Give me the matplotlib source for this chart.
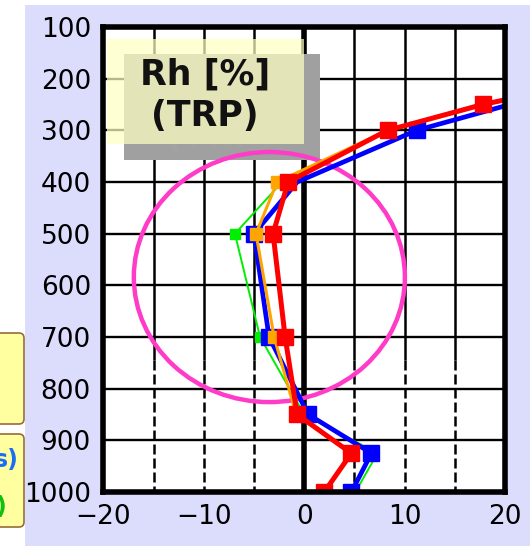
import matplotlib
matplotlib.use('Agg')
import matplotlib.pyplot as plt
from matplotlib.patches import Rectangle, Ellipse, FancyBboxPatch
from matplotlib.transforms import IdentityTransform

# pressure levels [hPa] and Rh differences [%]
levels = [200, 250, 300, 400, 500, 700, 850, 925, 1000]
red = [30, 17.8, 8.3, -1.6, -3.1, -1.9, -0.7, 4.7, 2.0]
blue = [32, 20.5, 11.2, -0.7, -5.0, -3.5, 0.4, 6.7, 4.7]
orange = [30, 17.5, 8.3, -2.7, -4.8, -3.0, -0.8, 4.6, 2.0]
green = [30, 18.0, 8.5, -2.2, -6.9, -4.4, 0.0, 7.3, 5.1]

yticks = [100, 200, 300, 400, 500, 600, 700, 800, 900, 1000]
xticks = [-20, -10, 0, 10, 20]
title = 'Rh [%]\n(TRP)'

W, H = 530, 546
fig = plt.figure(figsize=(W / 100, H / 100), dpi=100, facecolor='white')

# lavender panel behind the chart
fig.add_artist(Rectangle((25 / W, 0), 1, 541 / H, transform=fig.transFigure,
                         facecolor='#dcdcfc', edgecolor='none', zorder=0))
# clipped yellow boxes from the neighbouring panel
for y0, y1 in [(122, 213), (19, 112)]:
    fig.add_artist(FancyBboxPatch((-20, y0), 44, y1 - y0, boxstyle='round,pad=0,rounding_size=5',
                                  transform=IdentityTransform(), facecolor='#ffffa0',
                                  edgecolor='#9a6a3a', lw=1.2, zorder=1))
fig.text(19 / W, 86 / H, 's)', color='#1a6ef5', fontsize=17, fontweight='bold',
         ha='right', va='center', zorder=2)
fig.text(6 / W, 39 / H, ')', color='#10c010', fontsize=17, fontweight='bold',
         ha='right', va='center', zorder=2)

ax = fig.add_axes([103.4 / W, 54 / H, 401.6 / W, 465 / H])
ax.set_facecolor('white')
ax.set_xlim(-20, 20)
ax.set_ylim(1000, 100)

# grid
for p in range(200, 1000, 100):
    ax.axhline(p, color='k', lw=1.7, zorder=1)
gx = [-15, -10, -5, 5, 10, 15]
ax.vlines(gx, 100, 745, colors='k', lw=1.8, zorder=1)
ax.vlines(gx, 745, 1000, colors='k', lw=1.8, linestyles=(0, (4, 1.6)), zorder=1)
ax.axvline(0, color='k', lw=4, zorder=1)

# title box with shadow
ax.add_patch(Rectangle((-17.95, 152), 19.55, 205, facecolor='#a0a0a0', edgecolor='none', zorder=2))
ax.text(-8.3, 274, title, ha='center', va='center', fontsize=25, fontweight='bold',
        color='#a8a8a0', alpha=0.35, linespacing=1.25, zorder=2.5)
ax.add_patch(Rectangle((-19.64, 123), 19.64, 203, facecolor='#ffffc4', alpha=0.72,
                       edgecolor='none', zorder=3))
ax.text(-9.9, 232, title, ha='center', va='center', fontsize=25, fontweight='bold',
        color='#111111', linespacing=1.25, zorder=3.5)

# highlight circle
ax.add_patch(Ellipse((-3.47, 584), 27.0, 484, fill=False, edgecolor='#ff3cc8', lw=3.2, zorder=4))

# profiles
ax.plot(green, levels, color='#00ee00', lw=1.4, marker='s', ms=7,
        markevery=[4, 5], zorder=5)
ax.plot(blue, levels, color='#0000ff', lw=3.4, marker='s', ms=11,
        markevery=[2, 4, 5, 6, 7, 8], zorder=6)
ax.plot(orange, levels, color='#ffa500', lw=2.2, marker='s', ms=8,
        markevery=[3, 4, 5], zorder=7)
ax.plot(red, levels, color='#ff0000', lw=3.6, marker='s', ms=11,
        markevery=[1, 2, 3, 4, 5, 6, 7, 8], zorder=8)

ax.set_yticks(yticks)
ax.set_xticks(xticks)
ax.set_yticklabels([str(v) for v in yticks])
ax.set_xticklabels([str(v).replace('-', '\u2212') for v in xticks])
ax.tick_params(length=0, labelsize=19, pad=9)
for s in ax.spines.values():
    s.set_linewidth(4)
    s.set_zorder(10)

fig.savefig('out.png', dpi=100)
